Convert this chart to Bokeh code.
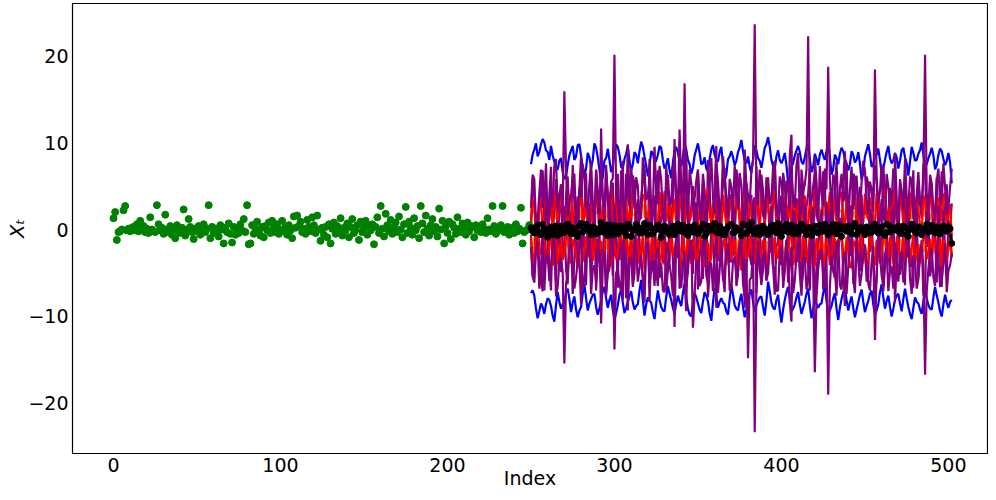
from bokeh.plotting import figure
from bokeh.models import Range1d, CustomJSTickFormatter, FixedTicker
from bokeh.embed import file_html
from bokeh.resources import INLINE

# observed series (index 0..249)
obs_values = [
    1.3, 2.0, -1.2, -0.3, -0.2, 0.0, 2.2, 2.7, -0.1, 0.1,
    -0.2, 0.2, 0.3, -0.1, 0.6, -0.2, 1.0, 0.1, 0.4, -0.3,
    0.1, -0.4, 1.4, 0.0, -0.2, -0.3, 2.8, 0.6, -0.1, 0.2,
    -0.5, 1.7, 0.0, -0.3, 0.4, -0.6, 0.1, -1.0, 0.5, -0.2,
    -0.4, 0.2, 2.3, -0.7, 0.0, 1.2, 0.3, -0.3, -1.1, 0.1,
    -0.2, 0.4, -0.6, 0.0, 0.6, -0.3, 0.1, 2.8, -1.0, 0.3,
    -0.4, 0.1, -0.2, -0.8, 0.5, 0.0, -1.6, 0.2, -0.3, 0.7,
    -0.5, -1.5, 0.3, -0.6, 0.1, -0.4, 0.6, -0.1, 1.2, -0.3,
    2.8, -1.7, -1.6, 0.5, -0.5, 0.1, 0.9, -0.2, -0.7, 0.3,
    -0.9, 0.4, -0.1, 0.8, -0.4, 1.0, 0.2, -0.3, 0.6, -0.5,
    0.0, 1.0, -0.2, 0.3, -0.6, 0.5, -0.1, -1.0, 1.5, 0.2,
    1.6, 0.4, 0.9, -0.3, 0.1, -0.5, 1.1, 0.3, -0.2, 1.4,
    0.5, -0.4, 1.6, 0.0, -1.3, 0.2, -0.6, 0.3, -0.9, 0.6,
    -1.6, 0.1, 0.8, -0.5, 0.4, -0.2, 1.3, -0.7, 0.2, -0.1,
    0.7, -0.9, 0.3, 1.2, -0.4, 0.0, 0.5, -1.2, 0.9, -0.3,
    0.2, 1.0, -0.6, 0.4, -0.1, 0.6, -1.7, 0.3, 1.4, -0.4,
    2.7, 0.1, -0.8, 1.8, 0.5, -0.2, 1.1, -0.5, 0.3, 0.8,
    -0.3, 1.5, 0.0, -0.9, 0.6, 2.6, -0.4, 0.9, 0.2, -0.6,
    1.3, -0.1, 0.4, -1.0, 2.7, 0.7, -0.3, 1.6, 0.1, -0.7,
    0.5, 1.2, -0.2, 0.3, -0.8, 2.4, 0.0, 1.0, -1.6, 0.4,
    -0.4, 0.9, -1.1, 0.6, 0.2, -0.5, 1.4, 0.1, -0.3, 0.7,
    0.0, -0.6, 0.8, -0.2, 0.4, 0.3, -0.9, 0.5, -0.1, 0.2,
    -0.3, 0.6, 0.1, -0.4, 1.3, 0.0, -0.2, 2.7, 0.4, -0.5,
    0.2, -0.1, 0.5, 2.7, -0.3, 0.1, 0.3, -0.6, 0.0, 0.2,
    -0.4, 0.6, -0.2, 0.1, 2.5, -1.6, -0.3, -0.1, 0.0, 0.5,
]

# forecast series start at index 250; "_even" arrays hold indices 250, 252, ... 502,
# "_odd" arrays hold indices 251, 253, ... 501
fc_start = 250

blue_upper_even = [
    7.5, 9.2, 8.4, 9.8, 10.0, 8.9, 9.6, 7.8, 6.9, 8.2,
    5.8, 7.4, 9.1, 8.0, 9.7, 8.5, 6.2, 8.8, 7.1, 9.9,
    8.3, 5.4, 7.9, 9.3, 6.6, 8.7, 9.5, 7.2, 8.1, 9.6,
    6.8, 8.9, 7.6, 10.1, 8.4, 6.1, 9.0, 7.7, 8.6, 9.4,
    7.0, 8.2, 5.9, 9.1, 8.8, 7.3, 9.8, 8.0, 6.4, 8.5,
    9.9, 7.5, 8.3, 6.7, 9.2, 8.6, 7.8, 9.5, 5.6, 8.1,
    9.0, 7.4, 8.9, 10.3, 7.9, 8.4, 6.5, 9.7, 8.2, 7.1,
    9.4, 10.6, 8.0, 6.9, 9.1, 7.6, 8.8, 5.3, 7.2, 8.5,
    9.6, 7.8, 8.3, 9.9, 6.6, 8.7, 7.4, 9.2, 8.0, 10.2,
    6.3, 8.6, 7.5, 9.4, 8.1, 6.8, 9.0, 7.7, 8.9, 5.7,
    8.4, 9.8, 7.2, 8.5, 9.3, 6.4, 8.0, 9.6, 7.6, 8.8,
    7.0, 9.1, 8.3, 6.2, 9.5, 7.9, 8.7, 10.0, 7.3, 8.2,
    9.4, 6.9, 8.6, 9.0, 7.4, 8.8, 5.3,
]
blue_upper_odd = [
    8.6, 9.9, 8.9, 10.4, 9.1, 8.0, 8.5, 7.0, 7.9, 6.6,
    6.1, 8.5, 9.6, 8.4, 9.8, 7.2, 7.0, 8.3, 8.0, 9.4,
    6.9, 6.0, 8.2, 8.0, 7.3, 9.8, 8.6, 7.0, 8.7, 7.9,
    7.5, 8.6, 9.0, 9.5, 7.4, 7.2, 8.8, 7.9, 9.6, 8.0,
    7.4, 6.8, 7.7, 9.5, 7.8, 8.4, 9.2, 7.5, 7.1, 9.2,
    8.8, 7.6, 7.0, 8.1, 9.7, 8.0, 8.9, 7.4, 6.3, 8.4,
    8.3, 7.9, 9.4, 9.0, 7.6, 7.2, 8.0, 9.1, 7.9, 8.2,
    9.8, 9.5, 7.3, 8.4, 8.0, 8.1, 7.4, 6.0, 7.6, 9.1,
    8.9, 7.5, 9.3, 8.1, 7.2, 8.1, 8.6, 8.5, 9.0, 8.4,
    7.0, 8.2, 8.7, 9.0, 7.6, 7.5, 8.6, 8.0, 7.6, 6.5,
    9.1, 8.7, 7.5, 8.6, 8.0, 7.0, 8.9, 8.2, 7.9, 8.3,
    7.9, 9.4, 7.6, 7.8, 8.8, 8.0, 9.1, 8.6, 7.5, 8.7,
    8.5, 7.4, 9.3, 8.1, 7.9, 7.7,
]
blue_lower_even = [
    -7.3, -7.6, -10.2, -8.5, -9.7, -7.9, -8.8, -10.6, -7.2, -9.1,
    -8.4, -6.8, -9.5, -7.7, -10.1, -8.9, -6.3, -9.3, -8.0, -7.4,
    -9.8, -8.2, -6.6, -9.0, -7.5, -10.4, -8.7, -6.9, -9.6, -8.3,
    -7.1, -9.2, -8.6, -5.8, -9.9, -7.8, -8.4, -10.3, -7.0, -8.9,
    -9.4, -6.5, -8.1, -9.7, -7.6, -8.8, -6.2, -9.1, -10.0, -7.3,
    -8.5, -9.6, -7.2, -8.3, -10.5, -6.7, -9.0, -7.9, -8.6, -9.8,
    -6.4, -8.7, -9.3, -7.4, -10.1, -8.0, -6.9, -9.5, -8.2, -7.7,
    -9.9, -6.0, -8.4, -9.2, -7.5, -10.7, -8.1, -6.6, -9.4, -8.6,
    -7.2, -9.7, -8.3, -6.8, -10.2, -7.9, -9.0, -8.5, -6.4, -9.6,
    -8.8, -7.3, -10.4, -8.0, -6.7, -9.3, -7.7, -10.1, -8.4, -6.9,
    -9.5, -8.2, -7.0, -9.8, -8.6, -6.3, -9.1, -7.6, -10.0, -8.1,
    -7.4, -9.4, -6.8, -8.9, -10.3, -7.8, -8.5, -9.7, -7.1, -8.7,
    -9.2, -6.6, -8.4, -10.0, -7.5, -9.0, -8.1,
]
blue_lower_odd = [
    -7.0, -9.1, -9.4, -8.9, -8.6, -8.1, -9.9, -8.7, -8.3, -8.6,
    -7.2, -8.0, -8.4, -9.2, -9.3, -7.4, -7.9, -8.5, -7.5, -8.9,
    -9.1, -7.1, -7.9, -8.1, -9.2, -9.6, -7.5, -8.4, -9.0, -7.6,
    -8.4, -8.8, -7.0, -8.1, -8.6, -8.2, -9.5, -8.5, -8.1, -9.3,
    -7.7, -7.4, -9.0, -8.5, -8.3, -7.3, -7.8, -9.8, -8.4, -7.8,
    -9.2, -8.3, -7.6, -9.6, -8.4, -7.7, -8.3, -8.4, -9.4, -8.0,
    -7.5, -9.1, -8.2, -8.9, -9.2, -7.3, -8.3, -8.7, -7.8, -8.9,
    -8.2, -7.1, -9.0, -8.1, -9.3, -9.2, -7.2, -8.1, -9.1, -7.8,
    -8.6, -9.0, -7.4, -8.7, -9.1, -8.6, -8.6, -7.3, -8.2, -9.3,
    -7.9, -9.1, -9.0, -7.2, -8.1, -8.4, -9.0, -9.2, -7.5, -8.3,
    -8.8, -7.4, -8.6, -9.3, -7.2, -7.8, -8.2, -8.9, -9.1, -7.6,
    -8.5, -8.0, -7.9, -9.7, -9.0, -8.3, -9.2, -8.2, -7.9, -9.1,
    -7.8, -7.6, -9.4, -8.6, -8.4, -8.3,
]
mean_even = [
    0.2, -0.4, 0.5, -0.6, 0.1, -0.9, 0.3, -0.2, -0.7, 0.4,
    -0.3, 0.6, -0.5, 0.0, -0.8, 0.7, -0.1, 0.3, -0.6, 0.2,
    -0.4, 0.8, -0.2, -0.7, 0.5, 0.1, -0.5, 0.4, -0.3, 0.6,
    -0.8, 0.0, 0.3, -0.4, 0.7, -0.6, 0.2, -0.1, 0.5, -0.9,
    0.4, -0.3, 0.1, -0.6, 0.6, -0.2, 0.3, -0.7, 0.0, 0.5,
    -0.5, 0.2, -0.8, 0.4, -0.1, 0.7, -0.4, 0.1, -0.6, 0.3,
    0.6, -0.3, 0.0, -0.7, 0.5, -0.2, 0.8, -0.5, 0.2, -0.4,
    0.1, -0.6, 0.4, -0.1, 0.7, -0.8, 0.3, -0.3, 0.5, 0.0,
    -0.5, 0.6, -0.2, 0.2, -0.7, 0.4, -0.4, 0.1, 0.6, -0.6,
    0.3, -0.1, 0.5, -0.8, 0.0, 0.4, -0.5, 0.7, -0.2, 0.2,
    -0.6, 0.1, -0.3, 0.6, -0.4, 0.3, -0.7, 0.5, -0.1, 0.0,
    0.4, -0.5, 0.2, -0.8, 0.6, -0.2, 0.3, -0.6, 0.1, -0.3,
    0.5, -0.4, 0.2, -0.1, 0.3, 0.3, -1.6,
]
mean_odd = [
    -0.2, 0.3, -0.5, 0.6, -0.3, 0.1, -0.6, 0.4, 0.0, -0.4,
    0.5, -0.2, 0.2, -0.6, 0.4, -0.3, 0.6, -0.1, 0.3, -0.5,
    0.1, -0.3, 0.5, 0.0, -0.6, 0.4, -0.2, 0.2, -0.7, 0.3,
    -0.1, 0.6, -0.4, 0.2, -0.3, 0.5, -0.5, 0.0, 0.3, -0.2,
    0.2, -0.6, 0.4, -0.1, 0.0, 0.5, -0.4, 0.3, -0.3, 0.1,
    -0.2, 0.6, -0.5, 0.2, 0.1, -0.3, 0.4, -0.6, 0.0, 0.5,
    -0.4, 0.2, -0.1, 0.6, -0.5, 0.3, -0.2, 0.1, -0.6, 0.4,
    0.0, -0.3, 0.5, -0.4, 0.2, -0.2, 0.6, 0.1, -0.5, 0.3,
    -0.1, 0.4, -0.6, 0.2, 0.0, -0.3, 0.5, -0.2, 0.3, -0.4,
    0.6, -0.5, 0.1, 0.3, -0.2, 0.0, 0.4, -0.6, 0.2, -0.1,
    0.3, -0.4, 0.5, -0.2, 0.1, -0.5, 0.6, -0.3, 0.2, -0.1,
    -0.3, 0.4, -0.6, 0.0, 0.5, -0.4, 0.2, -0.1, 0.6, -0.2,
    0.0, 0.3, -0.5, 0.4, -0.2, 0.1,
]
orange_upper_even = [
    1.2, 1.9, 0.8, 2.4, 1.5, 3.0, 1.1, 2.2, 1.6, 2.8,
    1.0, 2.5, 1.7, 0.9, 2.1, 1.4, 3.1, 1.8, 1.2, 2.6,
    2.0, 1.3, 2.9, 1.6, 0.9, 2.3, 1.5, 3.2, 1.9, 1.1,
    2.4, 1.7, 1.0, 2.7, 1.4, 2.0, 2.9, 1.2, 1.8, 2.5,
    1.5, 3.0, 1.1, 2.2, 1.6, 2.6, 0.9, 2.3, 1.9, 1.3,
    2.8, 1.4, 2.0, 1.0, 2.5, 1.7, 3.1, 1.2, 2.1, 1.6,
    2.4, 1.0, 2.7, 1.5, 1.9, 2.9, 1.3, 2.2, 1.7, 2.6,
    1.1, 2.3, 1.8, 3.0, 1.4, 2.0, 1.2, 2.7, 1.6, 2.4,
    1.9, 1.0, 2.6, 1.5, 2.2, 3.2, 1.3, 2.0, 1.7, 2.8,
    1.2, 2.4, 1.6, 2.1, 0.9, 2.7, 1.8, 1.4, 3.0, 1.5,
    2.2, 1.7, 2.9, 1.1, 2.5, 1.6, 2.0, 1.3, 2.6, 1.9,
    1.4, 2.8, 1.8, 2.3, 1.0, 2.1, 1.6, 3.1, 1.5, 2.4,
    1.8, 1.2, 2.6, 1.5, 3.4, 2.0, 1.3,
]
orange_upper_odd = [
    2.3, 1.0, 2.9, 1.3, 2.6, 1.5, 2.0, 1.2, 2.7, 1.4,
    2.2, 0.9, 2.8, 1.6, 2.4, 1.1, 2.0, 2.9, 1.3, 1.8,
    1.2, 2.6, 1.5, 3.0, 1.7, 2.1, 0.9, 2.5, 1.4, 2.8,
    1.6, 2.3, 1.1, 2.9, 1.8, 1.0, 2.5, 1.5, 2.2, 1.2,
    2.7, 1.3, 2.4, 1.0, 2.9, 1.6, 2.1, 1.4, 2.6, 1.9,
    1.2, 2.8, 1.5, 2.3, 1.0, 2.6, 1.8, 2.9, 1.3, 2.4,
    1.7, 2.2, 1.1, 2.8, 1.6, 2.4, 1.0, 2.7, 1.4, 2.1,
    2.9, 1.3, 2.5, 1.7, 2.2, 1.0, 2.8, 1.5, 2.3, 1.2,
    2.6, 1.6, 2.0, 1.1, 2.9, 1.4, 2.5, 1.8, 2.2, 1.0,
    2.7, 1.5, 2.3, 1.2, 2.8, 1.6, 2.1, 1.0, 2.6, 1.9,
    1.3, 2.5, 1.0, 2.9, 1.7, 2.3, 1.4, 2.7, 1.2, 2.1,
    2.6, 1.1, 2.4, 1.6, 2.9, 1.3, 2.2, 1.8, 2.7, 1.0,
    2.5, 1.4, 2.2, 1.7, 2.8, 1.5,
]
orange_lower_even = [
    -1.4, -0.9, -2.2, -1.6, -2.8, -1.1, -1.9, -2.5, -1.3, -0.8,
    -2.1, -1.5, -2.9, -1.2, -1.8, -2.4, -1.0, -2.7, -1.6, -2.0,
    -1.3, -2.6, -1.7, -1.0, -2.3, -1.9, -3.0, -1.4, -2.1, -1.2,
    -2.5, -1.6, -2.0, -1.1, -2.8, -1.5, -1.8, -2.4, -0.9, -2.2,
    -1.7, -2.9, -1.3, -2.1, -1.0, -2.6, -1.9, -1.4, -2.3, -1.6,
    -1.1, -2.4, -1.8, -2.7, -1.5, -2.0, -1.2, -2.8, -1.7, -2.2,
    -1.9, -1.3, -2.5, -1.6, -3.1, -1.4, -2.1, -1.0, -2.6, -1.8,
    -2.3, -1.5, -2.0, -1.2, -2.7, -1.7, -2.4, -1.1, -2.9, -1.6,
    -1.4, -2.2, -1.8, -2.6, -1.3, -2.0, -1.0, -2.5, -1.7, -2.1,
    -2.8, -1.5, -1.9, -1.2, -2.4, -1.6, -2.2, -1.3, -2.0, -2.7,
    -1.8, -2.3, -1.1, -2.6, -1.5, -2.1, -1.7, -2.9, -1.4, -1.9,
    -2.5, -1.2, -2.0, -1.6, -2.8, -1.3, -2.4, -1.8, -2.2, -1.5,
    -1.7, -2.6, -1.3, -2.1, -1.9, -2.4, -1.2,
]
orange_lower_odd = [
    -2.4, -1.2, -1.6, -2.9, -1.3, -2.3, -1.0, -2.0, -2.7, -1.5,
    -1.8, -2.6, -1.1, -2.2, -2.9, -1.4, -2.0, -1.2, -2.5, -1.7,
    -2.8, -1.5, -2.2, -1.3, -2.7, -1.0, -2.4, -1.9, -1.3, -2.6,
    -1.2, -2.3, -1.5, -2.9, -1.7, -2.1, -1.1, -2.6, -1.6, -2.4,
    -2.0, -1.3, -2.7, -1.5, -2.2, -1.1, -2.8, -1.8, -1.2, -2.5,
    -1.6, -2.9, -1.0, -2.1, -2.5, -1.4, -2.3, -1.2, -2.6, -1.5,
    -2.7, -1.1, -2.2, -1.8, -1.3, -2.6, -1.5, -2.4, -1.0, -2.9,
    -1.4, -2.5, -1.2, -2.1, -1.7, -2.8, -1.3, -2.3, -1.6, -2.0,
    -2.6, -1.1, -2.4, -1.5, -2.9, -1.2, -2.2, -1.7, -2.5, -1.3,
    -1.8, -2.6, -1.0, -2.3, -1.5, -2.7, -1.2, -2.1, -1.6, -2.4,
    -2.9, -1.3, -2.0, -1.7, -2.5, -1.1, -2.3, -1.4, -2.7, -1.6,
    -1.2, -2.4, -1.5, -2.8, -1.1, -2.2, -1.8, -2.6, -1.3, -2.0,
    -2.5, -1.4, -2.3, -1.0, -2.7, -1.6,
]
red_upper_even = [
    0.3, 2.8, -0.9, 3.4, 1.2, -0.5, 2.6, 4.1, 0.7, 3.0,
    1.8, -0.3, 3.6, 2.1, 0.4, 4.3, 1.5, -0.8, 2.9, 1.0,
    3.8, 0.6, 2.3, -0.4, 4.6, 1.9, 0.2, 3.1, 2.4, -0.7,
    1.3, 3.7, 0.8, 2.5, 4.0, -0.2, 2.0, 3.3, 0.5, 1.7,
    4.4, 2.2, -0.6, 3.5, 1.1, 2.7, 0.0, 3.9, 1.6, 2.9,
    -0.4, 3.2, 1.4, 4.8, 0.9, 2.3, 3.6, -0.1, 2.0, 1.2,
    3.0, 0.4, 4.2, 1.8, 2.6, -0.7, 3.4, 1.0, 2.5, 4.5,
    0.6, 2.9, 1.3, 3.8, -0.3, 2.2, 4.0, 1.5, 0.1, 3.3,
    2.7, 1.0, 3.9, 0.3, 2.4, 5.0, 1.7, -0.5, 3.1, 2.0,
    0.8, 3.5, 1.9, 4.3, 0.2, 2.8, 1.4, 3.7, -0.2, 2.5,
    4.1, 1.1, 2.6, 0.5, 3.6, 1.8, 4.7, 0.0, 2.3, 3.2,
    1.5, 3.9, 0.7, 2.9, 4.4, 1.2, 2.1, -0.4, 3.4, 1.9,
    2.8, 0.4, 3.6, 1.6, 4.2, 2.0, -0.8,
]
red_upper_odd = [
    3.5, 0.1, 2.9, -0.2, 4.4, 1.6, 0.6, 3.3, 4.2, 1.1,
    2.6, 4.0, 0.5, 3.2, 2.7, 0.9, 3.8, 1.9, 0.2, 4.1,
    1.4, 3.0, 0.0, 3.6, 1.2, 4.2, 2.8, 0.4, 3.5, 2.2,
    4.5, 0.6, 2.9, 3.9, 0.8, 3.1, 1.5, 0.2, 4.3, 2.6,
    0.9, 3.4, 2.1, 0.7, 4.1, 1.3, 3.5, 1.0, 4.2, 0.4,
    2.7, 0.5, 3.8, 1.9, 3.1, 0.8, 1.6, 4.0, 0.6, 3.5,
    1.1, 3.7, 0.2, 4.0, 0.6, 2.8, 1.2, 3.9, 0.3, 2.0,
    3.6, 0.9, 4.4, 0.5, 3.2, 1.0, 2.3, 4.1, 2.9, 0.7,
    4.0, 2.2, 0.5, 3.4, 1.1, 2.6, 0.0, 3.7, 1.4, 4.3,
    3.1, 0.6, 4.1, 1.2, 3.6, 0.7, 4.3, 0.9, 3.8, 0.8,
    1.9, 3.7, 0.3, 4.2, 1.0, 3.9, 0.8, 3.3, 4.5, 0.6,
    3.0, 0.5, 3.8, 1.2, 2.5, 3.6, 0.6, 3.9, 0.4, 4.0,
    1.1, 3.4, 0.7, 3.9, 0.5, 2.9,
]
red_lower_even = [
    -0.8, -3.1, 0.4, -2.6, -1.5, -3.9, -0.6, -2.2, -4.0, -1.0,
    -2.8, -0.2, -3.5, -1.7, -4.4, -0.9, -2.4, -3.2, 0.3, -1.9,
    -3.7, -1.3, -2.5, 0.1, -4.2, -1.6, -2.9, -0.4, -3.3, -2.0,
    -0.7, -3.8, -1.4, -2.7, -4.6, -0.3, -2.2, -3.5, -1.1, -2.9,
    -4.1, -1.8, 0.2, -3.0, -1.2, -3.6, -2.4, -0.5, -3.9, -1.6,
    -2.6, -0.9, -4.3, -1.5, -3.2, 0.0, -2.8, -3.8, -1.0, -2.3,
    -3.4, -1.2, -2.7, -4.7, -0.6, -3.0, -1.9, -3.6, 0.2, -2.5,
    -1.4, -4.0, -2.1, -0.8, -3.3, -1.7, -4.5, -2.6, -0.4, -3.1,
    -2.0, -3.7, -0.9, -2.9, -1.3, -4.2, -2.3, -0.1, -3.4, -1.8,
    -3.9, -1.1, -2.6, -0.5, -3.5, -2.0, -4.4, -1.4, -2.8, -0.7,
    -2.4, -3.6, -1.0, -4.1, -1.9, -2.7, -0.3, -3.3, -1.5, -4.6,
    -1.2, -2.9, -3.8, -0.6, -2.2, -4.0, -1.7, -3.1, -0.9, -2.5,
    -3.5, -1.3, -2.8, -4.3, -1.6, -2.1, -3.0,
]
red_lower_odd = [
    -3.6, -0.5, -2.9, 0.0, -3.3, -1.4, -4.2, -0.7, -2.8, -3.5,
    -0.9, -3.9, -1.2, -3.0, -0.5, -3.7, -0.8, -1.0, -3.6, -0.6,
    -2.4, -3.9, -0.3, -4.0, -1.1, -3.4, -0.7, -2.9, -0.8, -4.1,
    -3.2, -1.0, -4.0, -0.6, -2.1, -3.8, -0.4, -2.6, -4.3, -0.9,
    -1.4, -3.7, -2.6, -0.8, -4.4, -0.7, -3.4, -3.0, -1.1, -3.8,
    -0.5, -3.5, -1.8, -4.0, -0.4, -3.3, -0.9, -1.6, -4.1, -0.7,
    -1.5, -4.2, -0.8, -2.5, -3.6, -0.6, -4.0, -1.0, -3.3, -1.2,
    -3.8, -0.9, -4.2, -3.1, -0.6, -3.9, -1.3, -0.8, -4.1, -0.5,
    -3.6, -0.7, -3.8, -0.4, -4.0, -1.0, -3.5, -4.1, -0.8, -3.7,
    -0.6, -3.3, -0.4, -3.8, -0.9, -4.3, -1.5, -3.7, -0.6, -3.9,
    -4.0, -0.6, -3.4, -1.2, -3.9, -0.5, -3.0, -0.8, -4.0, -0.9,
    -3.5, -0.7, -1.5, -3.8, -0.4, -2.3, -3.9, -0.6, -3.4, -1.1,
    -0.7, -3.8, -0.9, -1.2, -3.6, -0.8,
]
purple_upper_even = [
    2.5, 5.8, 1.2, 6.9, 3.4, 0.8, 4.7, 7.3, 2.1, 5.2,
    15.9, 1.5, 4.0, 6.4, 0.6, 3.7, 5.9, 2.2, 7.8, 1.0,
    4.5, 6.2, 1.8, 3.3, 5.5, 20.1, 2.7, 6.8, 0.9, 4.2,
    7.1, 2.4, 5.0, 1.3, 6.6, 3.8, 0.5, 9.5, 2.9, 5.7,
    1.6, 6.3, 3.1, 7.6, 2.0, 4.8, 16.8, 1.1, 5.3, 3.6,
    6.9, 0.7, 4.4, 2.6, 8.2, 1.9, 5.6, 3.0, 6.1, 1.4,
    4.9, 7.4, 2.3, 5.1, 0.8, 3.9, 6.7, 23.6, 2.8, 4.3,
    1.2, 6.0, 3.5, 7.9, 2.1, 5.4, 0.6, 4.6, 6.5, 2.5,
    8.8, 1.7, 5.2, 22.2, 3.2, 6.3, 0.9, 4.1, 7.0, 18.7,
    2.2, 5.8, 1.3, 6.4, 3.7, 0.4, 7.2, 4.0, 2.6, 5.5,
    6.8, 1.8, 4.6, 18.4, 2.9, 7.5, 1.0, 5.0, 3.3, 6.2,
    0.7, 4.4, 8.1, 2.4, 5.7, 1.5, 6.6, 3.1, 20.1, 2.0,
    5.3, 1.2, 7.0, 3.6, 4.8, 2.5, 7.0,
]
purple_upper_odd = [
    6.3, 0.9, 4.2, 2.5, 7.6, 1.4, 3.0, 8.1, 4.0, 1.9,
    7.0, 3.2, 6.1, 1.0, 4.8, 7.5, 2.6, 5.2, 3.1, 6.8,
    1.7, 3.6, 7.4, 2.0, 5.9, 4.1, 0.8, 3.5, 6.4, 2.7,
    4.9, 6.0, 1.2, 8.3, 3.4, 5.8, 2.3, 4.6, 7.3, 1.5,
    5.2, 2.8, 7.0, 4.3, 11.5, 1.8, 3.7, 6.9, 2.2, 5.6,
    2.9, 6.4, 1.6, 5.0, 3.6, 7.7, 2.0, 8.4, 3.9, 5.8,
    2.1, 4.4, 6.5, 1.3, 5.4, 2.9, 8.0, 4.5, 6.9, 1.7,
    4.8, 2.9, 7.2, 1.5, 6.1, 3.0, 5.6, 2.2, 3.8, 7.4,
    1.9, 4.3, 6.9, 2.8, 5.0, 1.6, 7.3, 2.7, 4.6, 5.9,
    6.3, 2.0, 4.7, 3.2, 7.6, 4.5, 2.3, 6.2, 1.1, 7.9,
    3.4, 5.5, 2.1, 6.0, 4.4, 1.5, 6.4, 2.6, 7.0, 1.3,
    5.8, 2.3, 3.7, 6.1, 1.2, 4.0, 3.0, 5.6, 4.1, 6.3,
    2.4, 5.6, 3.3, 7.6, 1.7, 4.9,
]
purple_lower_even = [
    -2.0, -6.1, -1.4, -5.3, -7.0, -2.8, -4.5, -0.9, -6.6, -3.2,
    -15.4, -5.0, -1.7, -6.8, -3.6, -0.8, -5.7, -2.5, -7.4, -4.1,
    -1.1, -6.3, -3.0, -5.1, -0.6, -13.8, -4.4, -7.1, -2.2, -5.6,
    -3.4, -0.7, -6.0, -2.9, -8.4, -1.5, -4.8, -6.5, -2.1, -3.9,
    -7.2, -1.9, -5.4, -3.3, -0.5, -6.7, -2.6, -4.9, -1.2, -7.5,
    -3.8, -5.9, -1.0, -6.2, -4.0, -2.7, -7.3, -0.9, -5.2, -1.6,
    -6.9, -3.1, -4.7, -0.8, -7.7, -14.8, -5.5, -23.3, -1.3, -6.4,
    -2.7, -5.0, -0.6, -4.3, -7.0, -1.8, -3.7, -6.1, -2.0, -5.8,
    -1.4, -7.6, -3.2, -5.4, -0.9, -16.4, -4.6, -2.3, -6.7, -19.0,
    -3.0, -5.6, -1.2, -6.9, -2.5, -4.4, -0.8, -7.3, -3.6, -5.1,
    -1.7, -6.2, -3.8, -12.7, -0.7, -5.3, -2.9, -7.1, -4.2, -1.5,
    -6.0, -2.6, -4.9, -0.9, -7.4, -3.3, -5.7, -1.9, -16.7, -4.5,
    -2.1, -6.5, -3.4, -5.9, -1.6, -4.7, -2.8,
]
purple_lower_odd = [
    -5.4, -2.7, -6.8, -0.5, -3.1, -5.9, -1.6, -7.7, -3.8, -4.9,
    -6.2, -2.1, -4.3, -5.5, -1.9, -6.9, -3.4, -0.4, -4.6, -6.1,
    -3.7, -2.3, -7.2, -4.5, -1.5, -5.0, -6.4, -1.3, -7.9, -3.3,
    -6.3, -2.2, -4.4, -5.7, -1.8, -6.1, -3.5, -2.9, -5.6, -7.0,
    -1.6, -4.0, -7.6, -1.0, -5.2, -3.8, -6.6, -2.0, -11.3, -3.6,
    -6.5, -1.4, -5.3, -3.7, -7.1, -0.9, -4.6, -5.9, -2.4, -7.0,
    -3.6, -5.4, -1.9, -6.3, -3.4, -5.8, -2.0, -6.9, -4.5, -2.8,
    -5.8, -1.6, -4.5, -7.1, -2.5, -6.0, -1.2, -4.3, -7.3, -2.9,
    -5.1, -3.2, -6.9, -1.9, -4.7, -7.8, -2.6, -5.3, -3.5, -6.6,
    -4.8, -1.5, -6.4, -3.3, -7.4, -2.2, -5.6, -1.4, -6.5, -3.0,
    -4.1, -7.0, -1.9, -5.0, -3.1, -6.6, -2.2, -4.9, -6.8, -3.4,
    -2.9, -6.1, -1.6, -5.6, -3.2, -6.8, -2.4, -4.4, -7.1, -2.7,
    -5.5, -1.8, -6.6, -3.9, -7.2, -4.1,
]
purple_mid_a_even = [
    0.5, 3.8, -2.1, 5.4, 1.0, -3.5, 7.2, 2.3, -1.4, 4.6,
    -2.8, 6.1, 0.2, 3.0, -4.0, 8.5, 1.6, -0.9, 5.7, -2.3,
    2.9, 11.6, -1.8, 4.3, 0.7, -3.1, 6.4, 1.9, -2.6, 9.8,
    0.3, 5.2, -3.8, 3.6, 7.5, -1.2, 2.4, -4.2, 6.8, 1.1,
    -2.0, 4.9, 0.8, 10.4, -3.3, 3.1, 5.9, -0.5, 2.6, -2.9,
    6.6, 1.4, -1.7, 8.0, 0.0, 4.4, -3.6, 2.7, 7.1, -0.8,
    3.5, -2.4, 5.5, 0.9, 9.2, -1.5, 4.0, -3.9, 2.0, 6.3,
    -0.3, 3.3, -2.7, 7.7, 1.2, -4.1, 5.0, 0.4, 10.9, -1.9,
    2.5, 6.9, -3.0, 4.1, -0.6, 8.3, 1.5, -2.2, 5.8, 0.1,
    -3.4, 4.7, 2.2, -1.0, 9.0, 0.6, -2.5, 6.0, 3.2, -4.3,
    1.8, 5.3, -1.3, 7.4, 0.3, -3.7, 4.5, 2.1, -0.4, 8.7,
    -2.2, 3.9, 6.5, -0.7, 2.8, -3.2, 5.6, 1.3, 7.9, -1.6,
    4.2, 0.9, -2.9, 6.7, 2.4, -1.1, 3.0,
]
purple_mid_a_odd = [
    5.9, -1.6, 2.7, 6.8, -3.0, 4.0, -0.8, 5.8, 1.9, -2.5,
    3.9, 1.1, 7.4, -2.0, 4.6, 0.3, 6.5, -3.2, 2.4, 6.9,
    -0.7, 3.3, 6.7, -2.4, 5.4, 1.4, -3.5, 7.9, 0.9, 3.8,
    6.2, -2.3, 1.9, 5.6, -1.0, 8.1, -3.1, 4.8, 0.0, 3.7,
    7.3, -1.4, 3.6, 0.9, 6.9, -2.6, 8.7, 1.2, 5.0, -3.8,
    2.8, 5.8, -2.7, 4.6, 1.8, 9.6, -2.1, 5.1, 0.6, 4.0,
    -3.0, 6.9, 1.7, -1.9, 5.0, 3.0, -2.8, 7.2, -0.9, 4.4,
    6.0, -1.0, 4.1, 2.0, -3.3, 6.5, 1.9, 8.6, -2.4, 3.6,
    -1.8, 4.8, 2.6, 7.1, -2.9, 5.5, 0.2, 6.7, -3.5, 4.0,
    1.3, 7.8, -1.2, 5.2, 2.5, -3.0, 6.4, 0.3, 4.9, 1.6,
    6.1, -2.6, 3.4, 5.7, -1.1, 7.2, 0.5, 4.8, -2.9, 3.7,
    5.1, 0.6, -3.3, 4.2, 6.8, -1.4, 2.9, 7.4, -2.0, 5.5,
    -1.5, 6.0, 2.8, -2.3, 5.2, 0.4,
]
purple_mid_b_even = [
    -0.6, -4.2, 1.9, -5.7, -1.3, 3.2, -7.0, -2.4, 1.0, -4.9,
    2.5, -6.3, -0.1, -3.4, 3.8, -8.6, -1.5, 0.8, -5.5, 2.0,
    -3.0, -10.8, 1.6, -4.5, -0.8, 2.9, -6.7, -1.7, 2.4, -9.3,
    -0.2, -5.0, 3.5, -3.8, -7.4, 1.1, -2.6, 3.9, -6.5, -1.0,
    1.8, -4.7, -0.9, -11.2, 3.0, -3.3, -5.8, 0.6, -2.7, 2.6,
    -6.9, -1.2, 1.5, -7.8, -0.2, -4.3, 3.4, -2.5, -7.2, 0.7,
    -3.7, 2.1, -5.2, -1.0, -9.0, 1.3, -4.1, 3.7, -2.2, -6.1,
    0.2, -3.5, 2.8, -7.5, -1.4, 3.9, -4.8, -0.5, -10.6, 1.7,
    -2.7, -6.6, 2.9, -4.2, 0.4, -8.1, -1.6, 2.3, -5.9, -0.3,
    3.2, -4.6, -2.0, 1.1, -8.8, -0.7, 2.6, -6.2, -3.1, 4.0,
    -1.9, -5.4, 1.4, -7.1, -0.4, 3.5, -4.4, -2.3, 0.5, -8.4,
    2.0, -3.8, -6.4, 0.9, -2.9, 3.1, -5.5, -1.2, -7.7, 1.5,
    -4.0, -0.8, 2.7, -6.6, -2.5, 1.0, -3.2,
]
purple_mid_b_odd = [
    -5.3, 0.9, -3.2, -7.1, 2.6, -4.4, 0.2, -6.0, -1.8, 2.8,
    -4.6, -0.9, -7.4, 2.2, -3.8, 0.3, -6.4, 3.0, -2.1, -7.0,
    0.6, -4.2, -7.6, 2.5, -5.3, -1.2, 3.4, -8.1, -0.5, -3.6,
    -6.6, 2.1, -1.5, -5.5, 1.3, -8.3, 2.8, -4.7, 0.1, -3.9,
    -7.0, 1.5, -3.4, -0.6, -6.8, 2.4, -9.4, -1.3, -5.1, 3.1,
    -2.9, -5.7, 2.6, -4.8, -1.5, -9.0, 2.0, -5.4, -0.8, -3.7,
    2.8, -6.5, -1.4, 2.2, -5.0, -2.9, 3.1, -7.3, 0.7, -4.6,
    -5.9, 1.2, -4.2, -1.9, 3.3, -6.7, -1.7, -8.4, 2.3, -3.8,
    1.6, -4.9, -2.4, -7.0, 2.6, -5.3, -0.1, -6.9, 3.2, -4.1,
    -1.2, -7.6, 1.3, -5.1, -2.6, 2.7, -6.2, -0.4, -4.8, -1.7,
    -6.0, 2.4, -3.5, -5.8, 1.2, -7.1, -0.6, -4.9, 2.7, -3.6,
    -5.2, -0.5, 3.0, -4.3, -6.7, 1.5, -3.1, -7.5, 2.1, -5.4,
    1.3, -6.1, -2.7, 2.2, -5.1, -0.6,
]

x_ticks = [0, 100, 200, 300, 400, 500]
y_ticks = [-20, -10, 0, 10, 20]
x_label = "Index"
y_label = "X\u209c"


def merge(even, odd):
    out = []
    for k, v in enumerate(even):
        out.append(v)
        if k < len(odd):
            out.append(odd[k])
    return out


def fc_x(series):
    return list(range(fc_start, fc_start + len(series)))


blue_upper = merge(blue_upper_even, blue_upper_odd)
blue_lower = merge(blue_lower_even, blue_lower_odd)
mean_fc = merge(mean_even, mean_odd)
orange_upper = merge(orange_upper_even, orange_upper_odd)
orange_lower = merge(orange_lower_even, orange_lower_odd)
red_upper = merge(red_upper_even, red_upper_odd)
red_lower = merge(red_lower_even, red_lower_odd)
purple_upper = merge(purple_upper_even, purple_upper_odd)
purple_lower = merge(purple_lower_even, purple_lower_odd)
purple_mid_a = merge(purple_mid_a_even, purple_mid_a_odd)
purple_mid_b = merge(purple_mid_b_even, purple_mid_b_odd)

X0, X1 = -24.55, 523.4
Y0, Y1 = -25.75, 25.98

p = figure(width=988, height=492, output_backend="svg", toolbar_location=None,
           x_range=Range1d(X0, X1), y_range=Range1d(Y0, Y1),
           min_border_left=72, min_border_right=1, min_border_top=3,
           min_border_bottom=39)
p.background_fill_color = "white"
p.border_fill_color = "white"
p.outline_line_color = "black"
p.outline_line_width = 1.2
p.grid.visible = False

lw = 2.2
# drawing order: bands interleaved so that no single colour hides the others
draw_order = [
    (blue_upper, "blue"), (blue_lower, "blue"),
    (orange_upper, "orange"), (orange_lower, "orange"),
    (purple_mid_a, "purple"), (red_upper, "red"),
    (purple_mid_b, "purple"), (red_lower, "red"),
    (purple_upper, "purple"), (purple_lower, "purple"),
]
for s, c in draw_order:
    p.line(fc_x(s), s, line_color=c, line_width=lw)

p.scatter(list(range(len(obs_values))), obs_values, size=7, marker="circle",
          fill_color="green", line_color="green")

p.line(fc_x(mean_fc), mean_fc, line_color="black", line_width=3, line_dash="6 3")
p.scatter(fc_x(mean_fc), mean_fc, size=6, marker="circle",
          fill_color="black", line_color="black")

fmt = CustomJSTickFormatter(code="return tick < 0 ? '\u2212' + (-tick) : String(tick);")
for ax in (p.xaxis[0], p.yaxis[0]):
    ax.formatter = fmt
    ax.major_label_text_font = "DejaVu Sans"
    ax.major_label_text_font_size = "19px"
    ax.major_label_text_color = "black"
    ax.axis_label_text_font = "DejaVu Sans"
    ax.axis_label_text_font_size = "19px"
    ax.axis_label_text_font_style = "normal"
    ax.axis_label_text_color = "black"
    ax.axis_line_color = None
    ax.major_tick_line_color = None
    ax.minor_tick_line_color = None
    ax.major_tick_out = 0
    ax.major_tick_in = 0
    ax.minor_tick_out = 0
    ax.minor_tick_in = 0
    ax.major_label_standoff = 4

p.xaxis[0].ticker = FixedTicker(ticks=x_ticks)
p.yaxis[0].ticker = FixedTicker(ticks=y_ticks)
p.xaxis[0].axis_label = x_label
p.xaxis[0].axis_label_standoff = -8
p.yaxis[0].axis_label = y_label
p.yaxis[0].axis_label_standoff = -4
p.yaxis[0].axis_label_text_font_style = "italic"
p.yaxis[0].axis_label_text_font_size = "20px"

open("out.html", "w").write(file_html(p, INLINE))
